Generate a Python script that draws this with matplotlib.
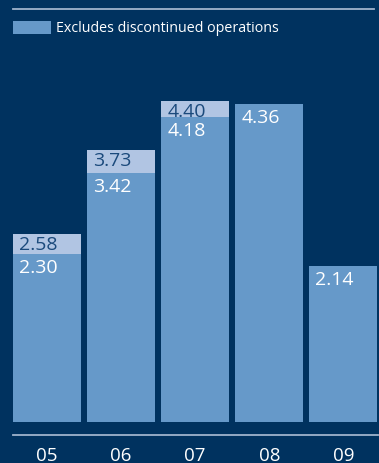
import matplotlib
matplotlib.use("Agg")
import matplotlib.pyplot as plt
from matplotlib.lines import Line2D
from matplotlib.patches import Rectangle

years = ["05", "06", "07", "08", "09"]
excl_values = [2.30, 3.42, 4.18, 4.36, 2.14]
total_values = [2.58, 3.73, 4.40, None, None]
legend_label = "Excludes discontinued operations"

BG = "#00325f"
MAIN = "#6699c9"
LIGHT = "#b1c5e3"
DARKTXT = "#1b4a7c"
LINE = "#9fb3cc"
FONT = "Open Sans"

W, H = 379, 464
fig = plt.figure(figsize=(W / 100, H / 100), dpi=100, facecolor=BG)

# axes placement in pixels
ax_left, ax_right = 13, 378
ax_bottom_px = 423  # y=0 (from top)
ax_top_px = 90
ax = fig.add_axes([ax_left / W, (H - ax_bottom_px) / H,
                   (ax_right - ax_left) / W, (ax_bottom_px - ax_top_px) / H])
ax.set_facecolor(BG)
scale = 72.9  # px per unit
ax.set_ylim(0, (ax_bottom_px - ax_top_px) / scale)
step = 74.0
ax.set_xlim(-(47 - 13) / step, 4 + (378 - 343.5) / step)
for s in ax.spines.values():
    s.set_visible(False)
ax.set_xticks([])
ax.set_yticks([])

width = 68 / step
for i, (v, t) in enumerate(zip(excl_values, total_values)):
    if t is not None:
        ax.bar(i, t - v, bottom=v, width=width, color=LIGHT, linewidth=0)
        ax.annotate(f"{t:.2f}", (i - width / 2, t), xytext=(6, -1),
                    textcoords="offset pixels", ha="left", va="top",
                    color=DARKTXT, fontsize=14, family=FONT)
    ax.bar(i, v, width=width, color=MAIN, linewidth=0)
    ax.annotate(f"{v:.2f}", (i - width / 2, v), xytext=(6, -4),
                textcoords="offset pixels", ha="left", va="top",
                color="white", fontsize=14, family=FONT)

# x labels
for i, yl in enumerate(years):
    ax.annotate(yl, (i, 0), xytext=(0, -(461 - 423)), textcoords="offset pixels",
                ha="center", va="baseline", color="white", fontsize=13.5,
                family=FONT, annotation_clip=False)

# lines
fig.add_artist(Line2D([13 / W, 374 / W], [(H - 10) / H] * 2, color=LINE, lw=1.3))
fig.add_artist(Line2D([13 / W, 378 / W], [(H - 436) / H] * 2, color=LINE, lw=1.3))

# legend
fig.add_artist(Rectangle((13 / W, (H - 35) / H), 38 / W, 13 / H,
                         transform=fig.transFigure, color=MAIN, linewidth=0))
fig.text(56 / W, (H - 28.5) / H, legend_label, color="white", fontsize=10.3,
         family=FONT, ha="left", va="center")

fig.savefig("out.png", dpi=100, facecolor=BG)
